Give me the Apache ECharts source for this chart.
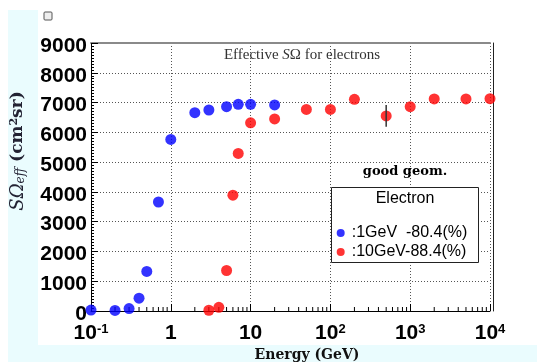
<!DOCTYPE html>
<html>
<head>
<meta charset="utf-8">
<title>Effective SΩ for electrons</title>
<script src="https://cdn.jsdelivr.net/npm/echarts@6.0.0/dist/echarts.min.js"></script>
<style>
html, body { margin: 0; padding: 0; background: #fff; }
#main { width: 537px; height: 362px; }
</style>
</head>
<body>
<div id="main"></div>
<script>
// values (energy in GeV, S*Omega in cm^2 sr)
var blueName = ':1GeV  -80.4(%)';
var redName = ':10GeV-88.4(%)';

var blueEnergy = [0.1, 0.2, 0.3, 0.4, 0.5, 0.7, 1, 2, 3, 5, 7, 10, 20];
var blueEff = [30, 20, 80, 430, 1330, 3660, 5760, 6660, 6750, 6860, 6940, 6940, 6920];

var redEnergy = [3, 4, 5, 6, 7, 10, 20, 50, 100, 200, 500, 1000, 2000, 5000, 10000];
var redEff = [25, 125, 1360, 3890, 5290, 6320, 6450, 6770, 6770, 7110, 6550, 6860, 7120, 7120, 7130];
var redErr = [0, 0, 0, 0, 0, 0, 0, 0, 0, 0, 365, 0, 0, 0, 0];

// axis ranges
var xDecades = [0.1, 1, 10, 100, 1000];
var xMinorMult = [2, 3, 4, 5, 6, 7, 8, 9];
var yMax = 9000, yStep = 1000;

var serif = '"Liberation Serif", "DejaVu Serif", serif';
var serifWide = '"DejaVu Serif", serif';
var sans = '"Liberation Sans", Arial, sans-serif';

function pairs(xs, ys) {
    var res = [];
    for (var i = 0; i < xs.length; i++) {
        res.push([xs[i], ys[i]]);
    }
    return res;
}

// error bars only where one is visible
var errData = [];
for (var i = 0; i < redEnergy.length; i++) {
    if (redErr[i] > 0) {
        errData.push([redEnergy[i], redEff[i] - redErr[i], redEff[i] + redErr[i]]);
    }
}

// log minor ticks 2..9 of each decade
var minorTicks = [];
xDecades.forEach(function(d) {
    xMinorMult.forEach(function(m) {
        minorTicks.push([d * m, 0]);
    });
});

function xLabel(v) {
    var e = Math.round(Math.log10(v));
    if (Math.abs(Math.log10(v) - e) > 1e-6) return '';
    if (e === 0) return '{b|1}';
    if (e === 1) return '{b|10}';
    return '{b|10}{s|' + e + '}';
}

var chart = echarts.init(document.getElementById('main'));

var option = {
    backgroundColor: '#fff',
    animation: false,
    grid: { left: 91, top: 43, right: 47, bottom: 51 },
    xAxis: [{
        type: 'log',
        logBase: 10,
        min: 0.1,
        max: 10000,
        position: 'bottom',
        axisLine: { show: true, onZero: false, lineStyle: { color: '#000', width: 1 } },
        axisTick: { show: true, inside: true, length: 7, lineStyle: { color: '#000' } },
        minorTick: { show: false },
        axisLabel: {
            margin: 12,
            color: '#000',
            formatter: xLabel,
            rich: {
                b: { fontSize: 21, fontWeight: 'bold', fontFamily: sans, color: '#000' },
                s: { fontSize: 13, fontWeight: 'bold', fontFamily: sans, color: '#000', verticalAlign: 'top' }
            }
        },
        splitLine: { show: true, lineStyle: { color: '#555', type: [1, 2], width: 1 } }
    }, {
        // top frame
        type: 'value',
        min: 0,
        max: 1,
        position: 'top',
        axisLine: { show: true, onZero: false, lineStyle: { color: '#8a8a8a', width: 2 } },
        axisTick: { show: false },
        axisLabel: { show: false },
        splitLine: { show: false }
    }],
    yAxis: [{
        type: 'value',
        min: 0,
        max: yMax,
        interval: yStep,
        axisLine: { show: true, onZero: false, lineStyle: { color: '#000', width: 1 } },
        axisTick: { show: true, inside: true, length: 7, lineStyle: { color: '#000' } },
        minorTick: { show: true, splitNumber: 10, length: 3, lineStyle: { color: '#000' } },
        axisLabel: {
            margin: 4,
            color: '#000',
            formatter: function(v) { return '{n|' + v + '}'; },
            rich: {
                n: { fontSize: 21, fontWeight: 'bold', fontFamily: sans, color: '#000', padding: [6, 0, 0, 0] }
            }
        },
        splitLine: { show: true, lineStyle: { color: '#555', type: [1, 2], width: 1 } }
    }, {
        // right frame
        type: 'value',
        min: 0,
        max: yMax,
        position: 'right',
        offset: 3,
        axisLine: { show: true, onZero: false, lineStyle: { color: '#222', width: 1 } },
        axisTick: { show: false },
        axisLabel: { show: false },
        splitLine: { show: false }
    }],
    legend: {
        data: [blueName, redName],
        orient: 'vertical',
        left: 331.7,
        top: 220,
        z: 20,
        padding: 5,
        itemWidth: 8,
        itemHeight: 8,
        itemGap: 3,
        icon: 'circle',
        textStyle: { fontSize: 16, fontFamily: sans, color: '#000', padding: [0, 0, 0, 2] }
    },
    series: [{
        name: blueName,
        type: 'scatter',
        symbol: 'circle',
        symbolSize: 11,
        clip: false,
        itemStyle: { color: '#0000ff' },
        data: pairs(blueEnergy, blueEff)
    }, {
        name: redName,
        type: 'scatter',
        symbol: 'circle',
        symbolSize: 11,
        clip: false,
        itemStyle: { color: '#ff0000' },
        data: pairs(redEnergy, redEff)
    }, {
        name: 'err',
        type: 'custom',
        z: 5,
        data: errData,
        renderItem: function(params, api) {
            var x = api.value(0);
            var p1 = api.coord([x, api.value(1)]);
            var p2 = api.coord([x, api.value(2)]);
            return {
                type: 'line',
                shape: { x1: p1[0], y1: p1[1], x2: p2[0], y2: p2[1] },
                style: { stroke: '#333', lineWidth: 1.5 }
            };
        }
    }, {
        // minor ticks of the log axis, inside the frame
        name: 'minor',
        type: 'custom',
        z: 1,
        silent: true,
        data: minorTicks,
        renderItem: function(params, api) {
            var p = api.coord([api.value(0), api.value(1)]);
            return {
                type: 'line',
                shape: { x1: p[0], y1: p[1], x2: p[0], y2: p[1] - 4 },
                style: { stroke: '#000', lineWidth: 1 }
            };
        }
    }],
    graphic: [
        // canvas fill and pad
        { type: 'rect', z: -20, silent: true, shape: { x: 8, y: 10, width: 529, height: 352 }, style: { fill: '#eafcfe' } },
        { type: 'rect', z: -19, silent: true, shape: { x: 38, y: 10, width: 499, height: 335 }, style: { fill: '#fff' } },
        { type: 'rect', z: 10, shape: { x: 44, y: 12, width: 8, height: 8, r: 1 }, style: { fill: '#eee', stroke: '#555', lineWidth: 1 } },
        {
            type: 'text', x: 302, y: 55, z: 10,
            style: {
                text: 'Effective {i|S}Ω for electrons',
                fontSize: 15, fontFamily: serif, fill: '#333',
                align: 'center', verticalAlign: 'middle',
                rich: { i: { fontSize: 15, fontFamily: serif, fontStyle: 'italic', fill: '#333' } }
            }
        },
        {
            type: 'text', x: 405, y: 172, z: 10,
            style: {
                text: 'good geom.',
                fontSize: 13, fontWeight: 'bold', fontFamily: serifWide, fill: '#000',
                align: 'center', verticalAlign: 'middle'
            }
        },
        // legend box
        { type: 'rect', z: 8, shape: { x: 331.5, y: 187.5, width: 147, height: 75 }, style: { fill: '#fff', stroke: '#222', lineWidth: 1 } },
        {
            type: 'text', x: 405, y: 199, z: 10,
            style: { text: 'Electron', fontSize: 16, fontFamily: sans, fill: '#000', align: 'center', verticalAlign: 'middle' }
        },
        // axis titles
        {
            type: 'text', x: 307, y: 355, z: 10,
            style: {
                text: 'Energy (GeV)',
                fontSize: 14, fontWeight: 'bold', fontFamily: serifWide, fill: '#111',
                align: 'center', verticalAlign: 'middle'
            }
        },
        {
            type: 'text', x: 18, y: 151, z: 10, rotation: Math.PI / 2,
            style: {
                text: '{i|SΩ}{sub|eff}{b| (cm}{sup|2}{b|sr)}',
                align: 'center', verticalAlign: 'middle',
                rich: {
                    i: { fontSize: 18, fontFamily: serifWide, fontStyle: 'italic', fill: '#223' },
                    sub: { fontSize: 12, fontFamily: serifWide, fontStyle: 'italic', fill: '#223', verticalAlign: 'bottom' },
                    b: { fontSize: 17, fontFamily: serifWide, fontWeight: 'bold', fill: '#223' },
                    sup: { fontSize: 11, fontFamily: serifWide, fontWeight: 'bold', fill: '#223', verticalAlign: 'top' }
                }
            }
        }
    ]
};

chart.setOption(option);
</script>
</body>
</html>
